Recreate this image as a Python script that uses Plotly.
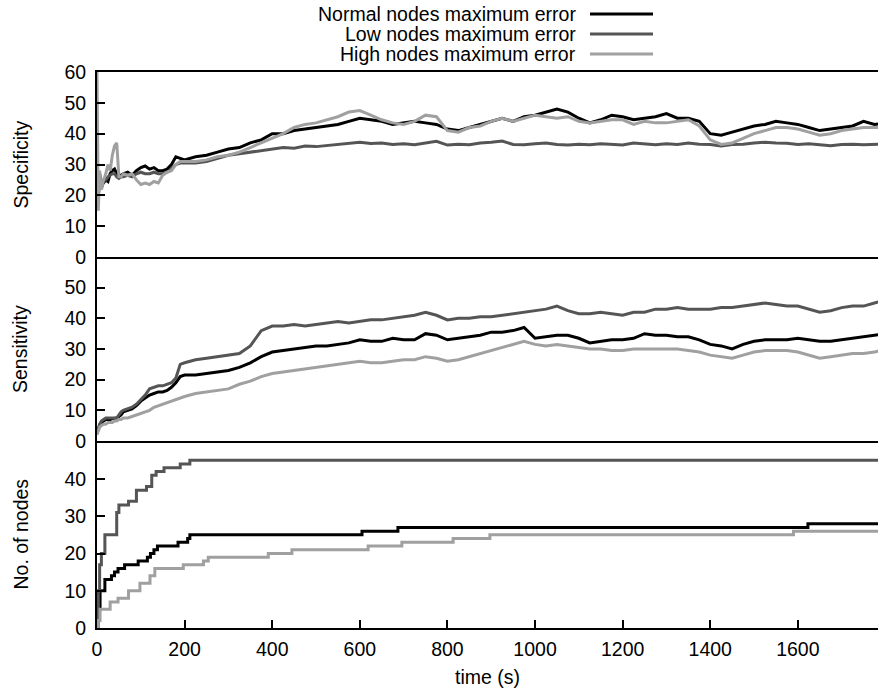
import plotly.graph_objects as go
from plotly.subplots import make_subplots

# ---------------- data ----------------
time_s = [0, 3, 6, 10, 15, 20, 25, 30, 35, 40, 45, 50, 55, 60, 70, 80, 90, 100, 110, 120,
          130, 140, 150, 160, 170, 180, 190, 200,
          225, 250, 275, 300, 325, 350, 375, 400, 425, 450, 475, 500, 525, 550, 575, 600,
          625, 650, 675, 700, 725, 750, 775, 800, 825, 850, 875, 900, 925, 950, 975, 1000,
          1025, 1050, 1075, 1100, 1125, 1150, 1175, 1200, 1225, 1250, 1275, 1300, 1325, 1350,
          1375, 1400, 1425, 1450, 1475, 1500, 1525, 1550, 1575, 1600, 1625, 1650, 1675, 1700,
          1725, 1750, 1775, 1800]

spec_normal = [20, 22, 27, 23, 24, 25, 24.5, 27, 28, 28.5, 27, 26, 26.5, 27, 27.5, 26.5, 28, 29, 29.5, 28.5,
               29, 28, 28, 28.5, 30, 32.5, 32, 31.5,
               32.5, 33, 34, 35, 35.5, 37, 38, 40, 40, 41,
               41.5, 42, 42.5, 43, 44, 45, 44.5, 44, 43, 43.5,
               44, 43.5, 43, 41.5, 41, 42, 43, 44, 45, 44,
               45.5, 46, 47, 48, 47, 45, 43.5, 44.5, 46, 45.5,
               44.5, 45, 45.5, 46.5, 45, 45, 44, 40, 39.5, 40.5,
               41.5, 42.5, 43, 44, 43.5, 43, 42, 41, 41.5, 42,
               42.5, 44, 43, 43.5]
spec_low = [25, 20, 24, 22, 25, 25, 26, 26.5, 27, 27, 26, 25.5, 26, 26, 26.5, 26, 27, 27.5, 27, 27,
            27.5, 27, 27, 27.5, 28.5, 30, 30.5, 30.5,
            30.5, 31, 32, 33, 33.5, 34, 34.5, 35, 35.5, 35.3,
            36, 35.8, 36.2, 36.5, 37, 37.2, 36.8, 37, 36.5, 36.7,
            36.4, 37, 37.5, 36.3, 36.6, 36.4, 37, 37.2, 37.6, 36.5,
            36.4, 36.7, 37, 36.5, 36.3, 36.6, 36.4, 36.7, 36.5, 36.3,
            37, 36.6, 36.4, 36.7, 36.5, 37, 36.6, 36.5, 36, 36.5,
            36.6, 37, 37.2, 37, 36.9, 36.5, 36.7, 36.4, 36.1, 36.5,
            36.6, 36.4, 36.5, 36.6]
spec_high = [60, 15, 28, 22, 25, 27, 30, 28, 33, 36, 37, 26, 26, 27, 26.5, 27, 25, 23.5, 24, 23.5,
             24.5, 24, 26.5, 27.5, 28, 30, 31, 31,
             31, 31.5, 32.5, 33, 34, 35.5, 37, 38.5, 40, 42,
             43, 43.5, 44.5, 45.5, 47, 47.5, 46, 44.5, 43.5, 43,
             44, 46, 45.5, 41, 40.5, 42, 42.5, 44, 45, 44,
             45, 46, 45.5, 45, 45.5, 44, 43.5, 44, 44.5, 44.5,
             43, 44, 43.5, 43.5, 44, 44.5, 42.5, 38, 36.5, 37,
             38.5, 40, 41, 42, 42, 41.5, 40.5, 39.5, 40, 41,
             41.5, 42, 42, 42]

sens_normal = [2.5, 4, 5, 6, 6.5, 7, 7, 7, 7.3, 7.5, 7.5, 8, 8.5, 9.5, 10, 10.5, 11.5, 13, 14, 15,
               15.5, 16, 16, 16.5, 17.5, 19, 21, 21.5,
               21.5, 22, 22.5, 23, 24, 25.5, 27.5, 29, 29.5, 30,
               30.5, 31, 31, 31.5, 32, 33, 32.5, 32.5, 33.5, 33,
               33, 35, 34.5, 33, 33.5, 34, 34.5, 35.5, 35.5, 36,
               37, 33.5, 34, 34.5, 34.5, 33.5, 32, 32.5, 33, 33,
               33.5, 35, 34.5, 34.5, 34, 34, 33, 31.5, 31, 30,
               31.5, 32.5, 33, 33, 33, 33.5, 33, 32.5, 32.5, 33,
               33.5, 34, 34.5, 35]
sens_low = [2.5, 4.5, 5.5, 6.5, 7, 7.5, 7.5, 7.5, 7.5, 7.5, 7.5, 8.5, 9.5, 10, 10.5, 11, 12, 13.5, 15, 17,
            17.5, 18, 18, 18.5, 19, 20.5, 25, 25.5,
            26.5, 27, 27.5, 28, 28.5, 31, 36, 37.5, 37.5, 38,
            37.5, 38, 38.5, 39, 38.5, 39, 39.5, 39.5, 40, 40.5,
            41, 42, 41, 39.5, 40, 40, 40.5, 40.5, 41, 41.5,
            42, 42.5, 43, 44, 42.5, 41.5, 41.5, 42, 41.5, 41,
            42, 42, 43, 43, 43.5, 43, 43, 43, 43.5, 43.5,
            44, 44.5, 45, 44.5, 44, 44, 43, 42, 42.5, 43.5,
            44, 44, 45, 46]
sens_high = [2, 3.5, 4.5, 5, 5.5, 5.5, 6, 6, 6, 6.5, 6.5, 7, 7, 7.5, 7.5, 8, 8.5, 9, 9.5, 10,
             11, 11.5, 12, 12.5, 13, 13.5, 14, 14.5,
             15.5, 16, 16.5, 17, 18.5, 19.5, 21, 22, 22.5, 23,
             23.5, 24, 24.5, 25, 25.5, 26, 25.5, 25.5, 26, 26.5,
             26.5, 27.5, 27, 26, 26.5, 27.5, 28.5, 29.5, 30.5, 31.5,
             32.5, 31.5, 31, 31.5, 31, 30.5, 30, 30, 29.5, 29.5,
             30, 30, 30, 30, 30, 29.5, 29, 28, 27.5, 27,
             28, 29, 29.5, 29.5, 29.5, 29, 28, 27, 27.5, 28,
             28.5, 28.5, 29, 30]

nodes_normal_t = [0, 3, 7, 18, 33, 40, 48, 63, 94, 115, 122, 130, 138, 185, 207, 212, 605, 687, 1623, 1800]
nodes_normal = [0, 5, 10, 13, 14, 15, 16, 17, 18, 19, 20, 21, 22, 23, 24, 25, 26, 27, 28, 28]
nodes_low_t = [0, 3, 6, 10, 18, 45, 50, 72, 90, 113, 125, 135, 153, 190, 212, 1800]
nodes_low = [0, 10, 17, 20, 25, 31, 33, 34, 37, 38, 41, 42, 43, 44, 45, 45]
nodes_high_t = [0, 3, 7, 30, 48, 72, 98, 121, 132, 197, 243, 254, 391, 445, 619, 696, 813, 897, 1590, 1800]
nodes_high = [0, 2, 5, 7, 8, 10, 12, 14, 16, 17, 18, 19, 20, 21, 22, 23, 24, 25, 26, 26]

series_names = ["Normal nodes maximum error", "Low nodes maximum error", "High nodes maximum error"]
colors = ["#000000", "#555555", "#a0a0a0"]
x_ticks = [0, 200, 400, 600, 800, 1000, 1200, 1400, 1600]

# ---------------- figure ----------------
W, H = 878, 694
ML, MR, MT, MB = 97, 0, 72, 66
PW, PH = W - ML - MR, H - MT - MB

fig = make_subplots(rows=3, cols=1, shared_xaxes=True, vertical_spacing=0)

LW = 3
spec = [spec_normal, spec_low, spec_high]
sens = [sens_normal, sens_low, sens_high]
nodes = [(nodes_normal_t, nodes_normal), (nodes_low_t, nodes_low), (nodes_high_t, nodes_high)]
for i in range(3):
    fig.add_trace(go.Scatter(x=time_s, y=spec[i], mode="lines", name=series_names[i],
                             line=dict(color=colors[i], width=LW), showlegend=False), row=1, col=1)
    fig.add_trace(go.Scatter(x=time_s, y=sens[i], mode="lines", name=series_names[i],
                             line=dict(color=colors[i], width=LW), showlegend=False), row=2, col=1)
    fig.add_trace(go.Scatter(x=nodes[i][0], y=nodes[i][1], mode="lines", name=series_names[i],
                             line=dict(color=colors[i], width=LW, shape="hv"), showlegend=False),
                  row=3, col=1)

FONT = dict(family="Liberation Sans, Arial, Helvetica, sans-serif", size=19.5, color="black")

h3 = 187 / PH
h2 = 184 / PH
d3 = [0, h3]
d2 = [h3, h3 + h2]
d1 = [h3 + h2, 1]

axis_common = dict(showline=True, linecolor="black", linewidth=2, showgrid=False, zeroline=False)
xr = [0, 1783]
fig.update_layout(
    xaxis=dict(domain=[0, 1], range=xr, mirror=True, ticks="", showticklabels=False, **axis_common),
    xaxis2=dict(domain=[0, 1], range=xr, ticks="", showticklabels=False, **axis_common),
    xaxis3=dict(domain=[0, 1], range=xr, ticks="inside", ticklen=8, tickwidth=1.5, tickcolor="black",
                tickvals=x_ticks, ticktext=[str(v) for v in x_ticks], ticklabelstandoff=3,
                title=dict(text="time (s)", standoff=11, font=FONT), **axis_common),
    yaxis=dict(domain=d1, range=[0, 60], tickvals=[0, 10, 20, 30, 40, 50, 60], ticks="inside", ticklen=8,
               tickwidth=1.5, tickcolor="black", ticklabelstandoff=5, **axis_common),
    yaxis2=dict(domain=d2, range=[0, 60], tickvals=[0, 10, 20, 30, 40, 50], ticks="inside", ticklen=8,
                tickwidth=1.5, tickcolor="black", ticklabelstandoff=5, **axis_common),
    yaxis3=dict(domain=d3, range=[0, 50.2], tickvals=[0, 10, 20, 30, 40], ticks="inside", ticklen=8,
                tickwidth=1.5, tickcolor="black", ticklabelstandoff=5, **axis_common),
    width=W, height=H,
    margin=dict(l=ML, r=MR, t=MT, b=MB, pad=0),
    paper_bgcolor="white", plot_bgcolor="white",
    font=FONT, showlegend=False,
)

# y-axis titles
ytitles = ["Specificity", "Sensitivity", "No. of nodes"]
for i, yref in enumerate(["y domain", "y2 domain", "y3 domain"]):
    fig.add_annotation(text=ytitles[i], xref="paper", yref=yref, x=(20 - ML) / PW, y=0.5,
                       textangle=-90, showarrow=False, font=FONT, xanchor="center", yanchor="middle")

# legend (text left of line sample, gnuplot style)
legend_y_px = [14, 34, 54]
for i in range(3):
    yp = 1 + (MT - legend_y_px[i]) / PH
    fig.add_annotation(text=series_names[i], xref="paper", yref="paper", x=(578 - ML) / PW, y=yp,
                       xanchor="right", yanchor="middle", showarrow=False, font=FONT)
    fig.add_shape(type="line", xref="paper", yref="paper", x0=(590 - ML) / PW, x1=(653 - ML) / PW,
                  y0=yp, y1=yp, line=dict(color=colors[i], width=3))

fig.write_html("out.html")
